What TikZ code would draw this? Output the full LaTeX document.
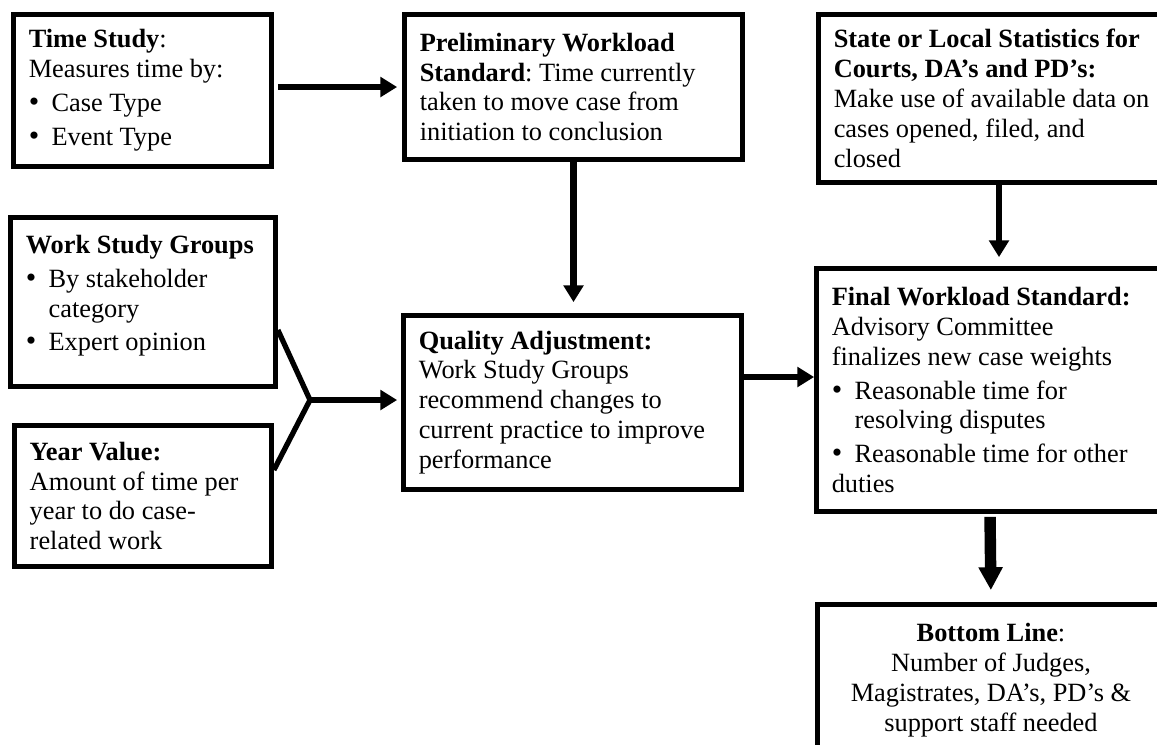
\documentclass[tikz,border=0pt]{standalone}
\usepackage{fontspec}
\setmainfont{Liberation Serif}
\usetikzlibrary{arrows.meta}

\newcommand{\bitem}{\par\vspace{2.3pt}\hangindent=13pt\hangafter=1\noindent
	\makebox[13pt][l]{\fontsize{17}{17}\selectfont\textbullet}}

\begin{document}
\begin{tikzpicture}[
	box/.style={draw, line width=3pt, inner xsep=0.3cm, inner ysep=0.04cm, align=flush left,
		font=\fontsize{15}{17}\selectfont\frenchspacing},
	arr/.style={line width=3.5pt, -{Triangle[length=9.5pt,width=11pt]}},
	bigarr/.style={line width=6.5pt, -{Triangle[length=13pt,width=13pt]}}
	]
	\useasboundingbox (0,0) rectangle (23.14,-14.88);
	\clip (0,0) rectangle (23.14,-14.88);
	% left column
	\node[box, minimum width=5.15cm, minimum height=3.03cm, text width=4.55cm] (ts) at (2.85,-1.81)
		{\textbf{Time Study}:\par Measures time by:\bitem Case Type\bitem Event Type};
	\node[box, minimum width=5.29cm, minimum height=3.37cm, text width=4.69cm] (wg) at (2.86,-6.04)
		{\textbf{Work Study Groups}\bitem By stakeholder\newline category\bitem Expert opinion\par\kern0.25cm};
	\node[box, minimum width=5.13cm, minimum height=2.81cm, text width=4.53cm] (yv) at (2.86,-9.92)
		{\textbf{Year Value:}\\Amount of time per\\year to do case-\\related work};
	% middle column
	\node[box, minimum width=6.75cm, minimum height=2.89cm, text width=6.15cm] (pw) at (11.47,-1.74)
		{\textbf{Preliminary Workload}\\\textbf{Standard}: Time currently\\taken to move case from\\initiation to conclusion};
	\node[box, minimum width=6.75cm, minimum height=3.47cm, text width=6.15cm] (qa) at (11.45,-8.05)
		{\textbf{Quality Adjustment:}\\Work Study Groups\\recommend changes to\\current practice to improve\\performance};
	% right column
	\node[box, minimum width=7.21cm, minimum height=3.35cm, text width=6.61cm] (st) at (19.98,-1.97)
		{\textbf{State or Local Statistics for}\\\textbf{Courts, DA’s and PD’s:}\\Make use of available data on\\cases opened, filed, and\\closed};
	\node[box, minimum width=6.93cm, minimum height=4.85cm, text width=6.33cm] (fw) at (19.8,-7.8)
		{\textbf{Final Workload Standard:}\\Advisory Committee\\finalizes new case weights\bitem Reasonable time for\newline resolving disputes\bitem Reasonable time for other\newline duties};
	\node[box, minimum width=6.93cm, minimum height=3.01cm, text width=6.33cm, align=flush center] (bl) at (19.82,-13.6)
		{\textbf{Bottom Line}:\\Number of Judges,\\Magistrates, DA’s, PD’s \&\\support staff needed};
	% arrows
	\draw[arr, shorten <=0.08cm, shorten >=0.1cm] (ts.east |- pw.west) -- (pw.west);
	\draw[arr, shorten >=0.22cm] (pw.south) -- (pw.south |- qa.north);
	\draw[arr, shorten >=0.18cm] (st.south) -- (st.south |- fw.north);
	\coordinate (qf) at ([yshift=0.51cm]qa.east);
	\draw[arr] (qf) -- (qf -| fw.west);
	\coordinate (mg) at (6.2,-8);
	\draw[line width=3pt] ([yshift=-0.56cm]wg.east) -- (mg) -- ([yshift=0.52cm]yv.east);
	\draw[arr, shorten >=0.08cm] (mg) -- (mg -| qa.west);
	\draw[bigarr, shorten <=0.06cm, shorten >=0.24cm] (fw.south) -- (bl.north);
\end{tikzpicture}
\end{document}
